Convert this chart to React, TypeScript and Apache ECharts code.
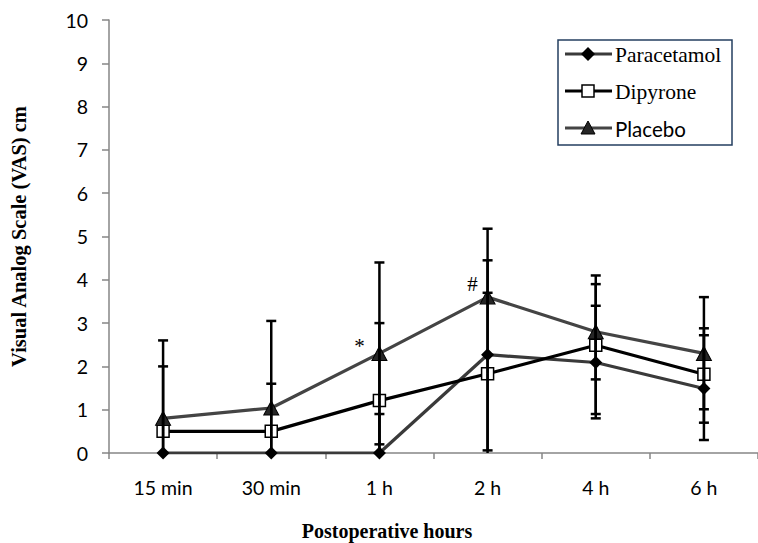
import React, { useEffect, useRef } from "react";
import * as echarts from "echarts";

const categories = ["15 min", "30 min", "1 h", "2 h", "4 h", "6 h"];

const paracetamolMean = [0, 0, 0, 2.27, 2.09, 1.49];
const paracetamolHigh = [null, null, 0.9, 4.45, 3.4, 2.72];
const paracetamolLow = [null, null, null, 0.06, 0.8, 0.3];

const dipyroneMean = [0.5, 0.5, 1.21, 1.83, 2.49, 1.82];
const dipyroneHigh = [2.0, 1.6, 3.0, 3.7, 3.9, 2.88];
const dipyroneLow = [0, 0, 0, 0, 0.9, 0.7];

const placeboMean = [0.8, 1.04, 2.3, 3.6, 2.8, 2.3];
const placeboHigh = [2.6, 3.05, 4.4, 5.18, 4.1, 3.6];
const placeboLow = [0, 0, 0.2, null, 1.7, 1.01];

const yTicks = [0, 10, 1]; // min, max, interval

type Seg = [number, number, number, number];

function buildSegments(mean: number[], high: (number | null)[], low: (number | null)[]): Seg[] {
  const out: Seg[] = [];
  mean.forEach((m, i) => {
    const h = high[i];
    const l = low[i];
    if (h !== null && h !== undefined) out.push([i, m, h, 1]);
    if (l !== null && l !== undefined) out.push([i, m, l, l > 0 ? 1 : 0]);
  });
  return out;
}

export default function App() {
  const ref = useRef<HTMLDivElement>(null);

  useEffect(() => {
    if (!ref.current) return;
    const chart = echarts.init(ref.current, null, { renderer: "svg" });

    const segs = [
      ...buildSegments(paracetamolMean, paracetamolHigh, paracetamolLow),
      ...buildSegments(dipyroneMean, dipyroneHigh, dipyroneLow),
      ...buildSegments(placeboMean, placeboHigh, placeboLow),
    ];

    const tickFont = "Lato, 'Open Sans', sans-serif";
    const serif = "'Liberation Serif', 'DejaVu Serif', serif";

    const option: any = {
      animation: false,
      backgroundColor: "#fff",
      grid: { left: 109, top: 20, width: 660, height: 433, containLabel: false },
      xAxis: {
        type: "category",
        data: categories,
        boundaryGap: true,
        axisLine: { show: true, lineStyle: { color: "#868686", width: 1.5 } },
        axisTick: { show: true, alignWithLabel: false, length: 6, lineStyle: { color: "#868686", width: 1.5 } },
        axisLabel: { color: "#000", fontSize: 19.5, fontFamily: tickFont, margin: 24 },
        splitLine: { show: false },
      },
      yAxis: {
        type: "value",
        min: yTicks[0],
        max: yTicks[1],
        interval: yTicks[2],
        axisLine: { show: true, lineStyle: { color: "#868686", width: 1.5 } },
        axisTick: { show: true, length: 7, lineStyle: { color: "#868686", width: 1.5 } },
        axisLabel: { color: "#000", fontSize: 19.5, fontFamily: tickFont, margin: 21 },
        splitLine: { show: false },
        name: "Visual Analog Scale (VAS) cm",
        nameLocation: "middle",
        nameGap: 80,
        nameTextStyle: { color: "#000", fontSize: 20.5, fontWeight: "bold", fontFamily: serif },
      },
      series: [
        {
          name: "Paracetamol",
          type: "line",
          data: paracetamolMean,
          symbol: "diamond",
          symbolSize: 13,
          lineStyle: { color: "#3a3a3a", width: 3.2 },
          itemStyle: { color: "#000", borderColor: "#000", borderWidth: 0 },
          z: 3,
        },
        {
          name: "Dipyrone",
          type: "line",
          data: dipyroneMean,
          symbol: "rect",
          symbolSize: 12,
          lineStyle: { color: "#000", width: 3.2 },
          itemStyle: { color: "#fff", borderColor: "#000", borderWidth: 1.5 },
          z: 3,
        },
        {
          name: "Placebo",
          type: "line",
          data: placeboMean,
          symbol: "triangle",
          symbolSize: [15, 14],
          lineStyle: { color: "#444", width: 3.2 },
          itemStyle: { color: "#262626", borderColor: "#000", borderWidth: 1 },
          z: 3,
          markPoint: {
            symbol: "circle",
            symbolSize: 0,
            data: [
              { coord: [2, placeboMean[2]], value: "*", label: { offset: [-20, -7] } },
              { coord: [3, placeboMean[3]], value: "#", label: { offset: [-15, -13] } },
            ],
            label: {
              show: true,
              formatter: (p: any) => p.value,
              color: "#000",
              fontSize: 21,
              fontFamily: serif,
            },
          },
        },
        {
          type: "custom",
          name: "errors",
          z: 5,
          silent: true,
          data: segs,
          renderItem: (params: any, api: any) => {
            const i = api.value(0);
            const from = api.coord([i, api.value(1)]);
            const to = api.coord([i, api.value(2)]);
            const cap = api.value(3);
            const children: any[] = [
              {
                type: "line",
                shape: { x1: from[0], y1: from[1], x2: to[0], y2: to[1] },
                style: { stroke: "#000", lineWidth: 2.5 },
              },
            ];
            if (cap) {
              children.push({
                type: "line",
                shape: { x1: to[0] - 5, y1: to[1], x2: to[0] + 5, y2: to[1] },
                style: { stroke: "#000", lineWidth: 2.5 },
              });
            }
            return { type: "group", children };
          },
        },
      ],
      graphic: [
        {
          type: "rect",
          shape: { x: 558, y: 40, width: 174, height: 105 },
          style: { fill: "#fff", stroke: "#243f60", lineWidth: 1.5 },
          z: 10,
        },
        {
          type: "line",
          shape: { x1: 565, y1: 54, x2: 612, y2: 54 },
          style: { stroke: "#3a3a3a", lineWidth: 3.2 },
          z: 11,
        },
        {
          type: "polygon",
          shape: { points: [[588, 47], [595, 54], [588, 61], [581, 54]] },
          style: { fill: "#000" },
          z: 12,
        },
        {
          type: "text",
          x: 615,
          y: 55,
          style: { text: "Paracetamol", fill: "#000", fontSize: 21.5, fontFamily: serif, verticalAlign: "middle" },
          z: 12,
        },
        {
          type: "line",
          shape: { x1: 565, y1: 91, x2: 612, y2: 91 },
          style: { stroke: "#000", lineWidth: 3.2 },
          z: 11,
        },
        {
          type: "rect",
          shape: { x: 582, y: 85, width: 12, height: 12 },
          style: { fill: "#fff", stroke: "#000", lineWidth: 1.5 },
          z: 12,
        },
        {
          type: "text",
          x: 615,
          y: 92,
          style: { text: "Dipyrone", fill: "#000", fontSize: 21.5, fontFamily: serif, verticalAlign: "middle" },
          z: 12,
        },
        {
          type: "line",
          shape: { x1: 565, y1: 128, x2: 612, y2: 128 },
          style: { stroke: "#444", lineWidth: 3.2 },
          z: 11,
        },
        {
          type: "polygon",
          shape: { points: [[588, 121], [595, 134], [581, 134]] },
          style: { fill: "#262626", stroke: "#000", lineWidth: 1 },
          z: 12,
        },
        {
          type: "text",
          x: 615,
          y: 129,
          style: { text: "Placebo", fill: "#000", fontSize: 20.5, fontFamily: tickFont, verticalAlign: "middle" },
          z: 12,
        },
        {
          type: "text",
          x: 387,
          y: 531,
          style: {
            text: "Postoperative hours",
            fill: "#000",
            fontSize: 20,
            fontWeight: "bold",
            fontFamily: serif,
            align: "center",
            verticalAlign: "middle",
          },
        },
      ],
    };

    chart.setOption(option);
    return () => chart.dispose();
  }, []);

  return (
    <div
      ref={ref}
      style={{ position: "fixed", left: 0, top: 0, width: 758, height: 543, background: "#fff" }}
    />
  );
}
